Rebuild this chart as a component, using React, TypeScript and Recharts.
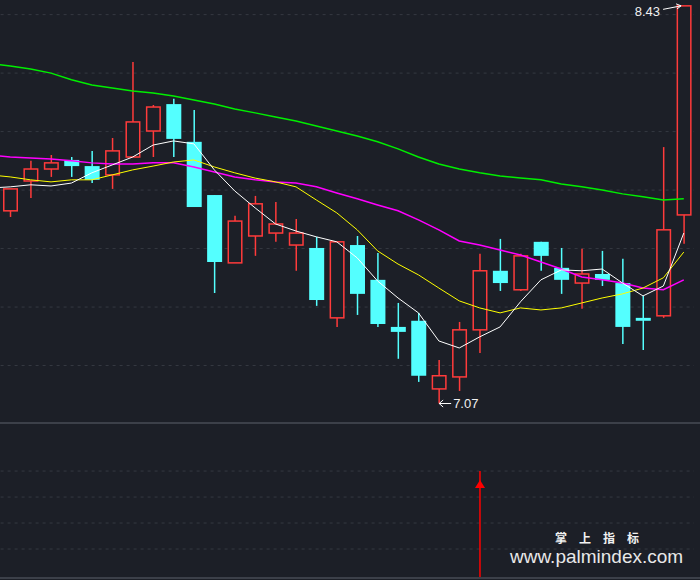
import { ComposedChart, Bar, Line, XAxis, YAxis, CartesianGrid } from 'recharts';

const BG = '#1c1f27';
const RED = '#ff3b3b';
const CYAN = '#54ffff';
const GRID = '#353942';

// daily candles, left to right (first day sits just off the left edge, only its averages show)
const opens = [null, 7.729, 7.831, 7.872, 7.903, 7.882, 7.852, 7.913, 8.002, 8.094, 7.965, 7.783, 7.551, 7.643, 7.653, 7.612, 7.602, 7.363, 7.612, 7.493, 7.332, 7.353, 7.12, 7.161, 7.322, 7.524, 7.459, 7.623, 7.534, 7.482, 7.513, 7.482, 7.363, 7.37, 7.715];
const highs = [null, 7.804, 7.9, 7.92, 7.913, 7.934, 7.978, 8.238, 8.091, 8.112, 8.074, 7.783, 7.712, 7.78, 7.759, 7.701, 7.64, 7.623, 7.643, 7.585, 7.414, 7.38, 7.219, 7.349, 7.582, 7.633, 7.582, 7.623, 7.602, 7.599, 7.592, 7.565, 7.438, 7.947, 8.43];
const lows = [null, 7.708, 7.773, 7.845, 7.845, 7.824, 7.804, 7.913, 7.913, 7.913, 7.742, 7.448, 7.551, 7.575, 7.623, 7.524, 7.404, 7.332, 7.373, 7.332, 7.223, 7.144, 7.07, 7.113, 7.243, 7.455, 7.455, 7.524, 7.445, 7.394, 7.472, 7.274, 7.253, 7.363, 7.616];
const closes = [null, 7.804, 7.872, 7.893, 7.882, 7.835, 7.934, 8.033, 8.084, 7.975, 7.742, 7.554, 7.694, 7.753, 7.684, 7.653, 7.424, 7.623, 7.445, 7.342, 7.315, 7.165, 7.165, 7.322, 7.524, 7.482, 7.575, 7.575, 7.493, 7.513, 7.493, 7.332, 7.353, 7.664, 8.43];

// moving averages as drawn
const ma5 = [7.807, 7.811, 7.818, 7.814, 7.824, 7.859, 7.886, 7.913, 7.954, 7.968, 7.958, 7.869, 7.797, 7.739, 7.684, 7.66, 7.64, 7.623, 7.568, 7.489, 7.431, 7.38, 7.284, 7.26, 7.298, 7.332, 7.418, 7.493, 7.527, 7.524, 7.53, 7.482, 7.438, 7.472, 7.653];
const ma10 = [7.852, 7.845, 7.835, 7.828, 7.835, 7.835, 7.852, 7.869, 7.882, 7.896, 7.903, 7.879, 7.859, 7.841, 7.828, 7.811, 7.766, 7.722, 7.664, 7.592, 7.547, 7.51, 7.465, 7.421, 7.397, 7.38, 7.397, 7.39, 7.397, 7.414, 7.431, 7.445, 7.465, 7.5, 7.588];
const ma20 = [7.92, 7.913, 7.91, 7.906, 7.9, 7.893, 7.889, 7.889, 7.893, 7.893, 7.879, 7.862, 7.845, 7.835, 7.828, 7.824, 7.811, 7.79, 7.77, 7.749, 7.729, 7.698, 7.664, 7.626, 7.612, 7.595, 7.578, 7.554, 7.53, 7.503, 7.493, 7.482, 7.465, 7.459, 7.493];
const ma60 = [8.233, 8.224, 8.214, 8.2, 8.177, 8.159, 8.149, 8.139, 8.132, 8.122, 8.108, 8.094, 8.077, 8.064, 8.05, 8.036, 8.019, 8.002, 7.985, 7.965, 7.941, 7.913, 7.889, 7.872, 7.859, 7.848, 7.841, 7.835, 7.821, 7.811, 7.8, 7.787, 7.777, 7.766, 7.77];

// lower panel signal
const signal = [null, null, null, null, null, null, null, null, null, null, null, null, null, null, null, null, null, null, null, null, null, null, null, null, 4, null, null, null, null, null, null, null, null, null, null];

const priceTicks = [7.2, 7.4, 7.6, 7.8, 8.0, 8.2, 8.4];
const signalTicks = [1, 2, 3, 4];
const PRICE_DOMAIN: [number, number] = [7.0, 8.45];
const SIGNAL_DOMAIN: [number, number] = [-0.115, 5.81];

const maxHigh = Math.max(...(highs.filter((v) => v != null) as number[]));
const minLow = Math.min(...(lows.filter((v) => v != null) as number[]));

const rows = ma5.map((m, i) => ({
  i,
  open: opens[i],
  high: highs[i],
  low: lows[i],
  close: closes[i],
  ma5: m,
  ma10: ma10[i],
  ma20: ma20[i],
  ma60: ma60[i],
  signal: signal[i],
}));

// the first category falls just left of the visible area
const margin = { top: 0, right: 6, bottom: 0, left: -20.4 };

// grid rows at tick values, mapped with the axis scale when it is available
const gridAt = (ticks: number[], domain: [number, number]) => (p: any) => {
  const s = p?.yAxis?.scale;
  if (typeof s === 'function') return ticks.map((t) => s(t));
  const off = p?.offset;
  if (!off) return [];
  return ticks.map((t) => off.top + ((domain[1] - t) / (domain[1] - domain[0])) * off.height);
};

function Candle(props: any) {
  const { x, y, width, height, payload } = props;
  if (!payload || payload.high == null || height == null || isNaN(y)) return null;
  const top = Math.min(y, y + height);
  const span = Math.abs(height);
  const range = payload.high - payload.low || 1;
  const toY = (v: number) => top + ((payload.high - v) / range) * span;
  const cx = x + width / 2;
  const up = payload.close >= payload.open;
  const bodyTop = toY(Math.max(payload.open, payload.close));
  const bodyBottom = toY(Math.min(payload.open, payload.close));
  const yHigh = top;
  const yLow = top + span;
  return (
    <g>
      {up ? (
        <>
          <line x1={cx} x2={cx} y1={yHigh} y2={bodyTop} stroke={RED} strokeWidth={1.5} />
          <line x1={cx} x2={cx} y1={bodyBottom} y2={yLow} stroke={RED} strokeWidth={1.5} />
          <rect x={x + 0.75} y={bodyTop} width={width - 1.5} height={Math.max(bodyBottom - bodyTop, 1)} fill={BG} stroke={RED} strokeWidth={1.5} />
        </>
      ) : (
        <>
          <line x1={cx} x2={cx} y1={yHigh} y2={yLow} stroke={CYAN} strokeWidth={1.5} />
          <rect x={x} y={bodyTop} width={width} height={Math.max(bodyBottom - bodyTop, 2)} fill={CYAN} />
        </>
      )}
      {payload.high === maxHigh ? (
        <g>
          <line x1={cx - 21} y1={yHigh + 3.5} x2={cx - 3} y2={yHigh} stroke="#fff" strokeWidth={1} />
          <polyline points={`${cx - 8},${yHigh - 2} ${cx - 3},${yHigh} ${cx - 7},${yHigh + 3}`} fill="none" stroke="#fff" strokeWidth={1} />
          <text x={cx - 24} y={yHigh + 10} textAnchor="end" fill="#f0f0f0" fontSize={13} fontFamily="Liberation Sans, Arial, sans-serif">
            {payload.high.toFixed(2)}
          </text>
        </g>
      ) : null}
      {payload.low === minLow ? (
        <g>
          <line x1={cx} y1={yLow} x2={cx + 12} y2={yLow} stroke="#fff" strokeWidth={1} />
          <polyline points={`${cx + 4},${yLow - 3.5} ${cx},${yLow} ${cx + 4},${yLow + 3.5}`} fill="none" stroke="#fff" strokeWidth={1} />
          <text x={cx + 14} y={yLow + 4.5} fill="#f0f0f0" fontSize={13} fontFamily="Liberation Sans, Arial, sans-serif">
            {payload.low.toFixed(2)}
          </text>
        </g>
      ) : null}
    </g>
  );
}

function SignalArrow(props: any) {
  const { x, y, width, height, payload } = props;
  if (!payload || payload.signal == null || isNaN(y)) return null;
  const cx = x + width / 2;
  const top = Math.min(y, y + height);
  const bottom = Math.max(y, y + height);
  return (
    <g>
      <line x1={cx} x2={cx} y1={top} y2={bottom} stroke="#ff0000" strokeWidth={1.5} />
      <polygon points={`${cx},${top + 9} ${cx - 5},${top + 17} ${cx + 5},${top + 17}`} fill="#ff0000" />
    </g>
  );
}

const hiddenY = { width: 0, tick: false, axisLine: false, tickLine: false, allowDataOverflow: true } as const;

export default function App() {
  return (
    <div style={{ position: 'absolute', left: 0, top: 0, width: 700, height: 580, background: BG, overflow: 'hidden' }}>
      <ComposedChart width={700} height={424} data={rows} margin={margin}>
        <XAxis dataKey="i" hide />
        <YAxis {...hiddenY} domain={PRICE_DOMAIN} ticks={priceTicks} />
        <CartesianGrid vertical={false} stroke={GRID} strokeDasharray="3 4" horizontalCoordinatesGenerator={gridAt(priceTicks, PRICE_DOMAIN)} />
        <Line dataKey="ma60" type="linear" stroke="#00ee00" strokeWidth={1.5} dot={false} activeDot={false} isAnimationActive={false} />
        <Line dataKey="ma20" type="linear" stroke="#ff00ff" strokeWidth={1.5} dot={false} activeDot={false} isAnimationActive={false} />
        <Bar
          dataKey={(d: any) => (d.low == null ? null : [d.low, d.high])}
          barSize={15}
          shape={(p: any) => <Candle {...p} />}
          isAnimationActive={false}
        />
        <Line dataKey="ma10" type="linear" stroke="#ffff00" strokeWidth={1} dot={false} activeDot={false} isAnimationActive={false} />
        <Line dataKey="ma5" type="linear" stroke="#ffffff" strokeWidth={1} dot={false} activeDot={false} isAnimationActive={false} />
      </ComposedChart>
      <div style={{ position: 'absolute', left: 0, top: 422, width: 700, height: 2, background: '#3c4049' }} />
      <ComposedChart width={700} height={156} data={rows} margin={{ ...margin, bottom: 2 }}>
        <XAxis dataKey="i" hide />
        <YAxis {...hiddenY} domain={SIGNAL_DOMAIN} ticks={signalTicks} />
        <CartesianGrid vertical={false} stroke={GRID} strokeDasharray="3 4" horizontalCoordinatesGenerator={gridAt(signalTicks, SIGNAL_DOMAIN)} />
        <Bar
          dataKey={(d: any) => (d.signal == null ? null : [SIGNAL_DOMAIN[0], d.signal])}
          barSize={15}
          shape={(p: any) => <SignalArrow {...p} />}
          isAnimationActive={false}
        />
      </ComposedChart>
      <div style={{ position: 'absolute', left: 0, top: 577, width: 700, height: 2, background: '#3c4049' }} />
      <div
        style={{
          position: 'absolute',
          left: 555,
          top: 531,
          fontFamily: '"Noto Sans CJK SC", sans-serif',
          fontWeight: 700,
          fontSize: 12,
          lineHeight: '13px',
          letterSpacing: 12,
          color: '#f2f2f2',
          whiteSpace: 'nowrap',
        }}
      >
        掌上指标
      </div>
      <div
        style={{
          position: 'absolute',
          left: 510,
          top: 549,
          fontFamily: '"Liberation Sans", Arial, sans-serif',
          fontSize: 19,
          lineHeight: '16px',
          color: '#e8e8e8',
          whiteSpace: 'nowrap',
        }}
      >
        www.palmindex.com
      </div>
    </div>
  );
}
